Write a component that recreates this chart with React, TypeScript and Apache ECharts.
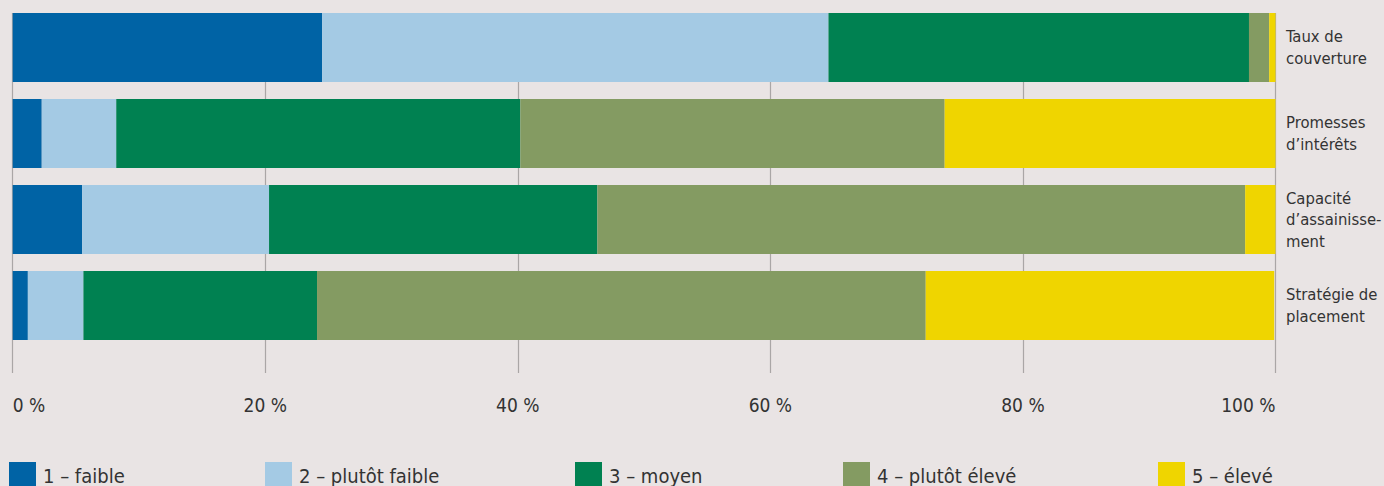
import React, { useEffect, useRef } from "react";
import * as echarts from "echarts";

const categories = [
  "Taux de\ncouverture",
  "Promesses\nd’intérêts",
  "Capacité\nd’assainisse-\nment",
  "Stratégie de\nplacement",
];
const seriesNames = ["1 – faible", "2 – plutôt faible", "3 – moyen", "4 – plutôt élevé", "5 – élevé"];
const faible = [24.5, 2.3, 5.5, 1.2];
const plutotFaible = [40.1, 5.9, 14.8, 4.4];
const moyen = [33.3, 32.0, 26.0, 18.5];
const plutotEleve = [1.6, 33.6, 51.3, 48.2];
const eleve = [0.5, 26.2, 2.4, 27.6];
const seriesValues = [faible, plutotFaible, moyen, plutotEleve, eleve];
const colors = ["#0063a5", "#a4cae4", "#008151", "#849b62", "#efd500"];
const legendLefts = [9, 265, 575, 843, 1158];

const FONT = "'Liberation Sans Narrow', 'DejaVu Sans Condensed', 'Open Sans', sans-serif";
const BG = "#e9e4e4";
const TEXT = "#333333";

export default function App() {
  const ref = useRef<HTMLDivElement>(null);
  useEffect(() => {
    document.body.style.margin = "0";
    document.body.style.background = BG;
    const chart = echarts.init(ref.current!, null, { renderer: "svg" });
    chart.setOption({
      animation: false,
      backgroundColor: BG,
      textStyle: { fontFamily: FONT, color: TEXT },
      grid: [
        { left: 12.7, right: 108.5, top: 4.5, height: 344, containLabel: false, outerBoundsMode: "none" },
        { left: 12.7, right: 108.5, top: 13, height: 360, containLabel: false, outerBoundsMode: "none" },
      ],
      legend: seriesNames.map((n, i) => ({
        data: [n],
        left: legendLefts[i],
        top: 462,
        padding: 0,
        itemWidth: 27,
        itemHeight: 27,
        itemGap: 0,
        icon: "rect",
        selectedMode: false,
        textStyle: { fontFamily: FONT, fontSize: 20, color: TEXT, padding: [0, 0, 0, 2] },
      })),
      xAxis: [
        { gridIndex: 0, type: "value", min: 0, max: 100, show: false },
        {
          gridIndex: 1,
          type: "value",
          min: 0,
          max: 100,
          interval: 20,
          axisLine: { show: false },
          axisTick: { show: false },
          axisLabel: {
            formatter: (v: number) => v + " %",
            fontFamily: FONT,
            fontSize: 19,
            color: TEXT,
            margin: 22,
            alignMinLabel: "left",
            alignMaxLabel: "right",
          },
          splitLine: { show: true, lineStyle: { color: "#aaa6a6", width: 1.2 } },
        },
      ],
      yAxis: [
        {
          gridIndex: 0,
          type: "category",
          data: categories,
          inverse: true,
          position: "right",
          axisLine: { show: false },
          axisTick: { show: false },
          splitLine: { show: false },
          axisLabel: {
            align: "left",
            margin: 10.5,
            fontFamily: FONT,
            fontSize: 16.5,
            lineHeight: 21.5,
            color: TEXT,
          },
        },
        { gridIndex: 1, type: "value", show: false },
      ],
      series: seriesNames.map((n, i) => ({
        name: n,
        type: "bar",
        stack: "total",
        xAxisIndex: 0,
        yAxisIndex: 0,
        barWidth: 69,
        itemStyle: { color: colors[i] },
        data: seriesValues[i],
      })),
    });
    return () => chart.dispose();
  }, []);
  return <div ref={ref} style={{ width: 1384, height: 486 }} />;
}
